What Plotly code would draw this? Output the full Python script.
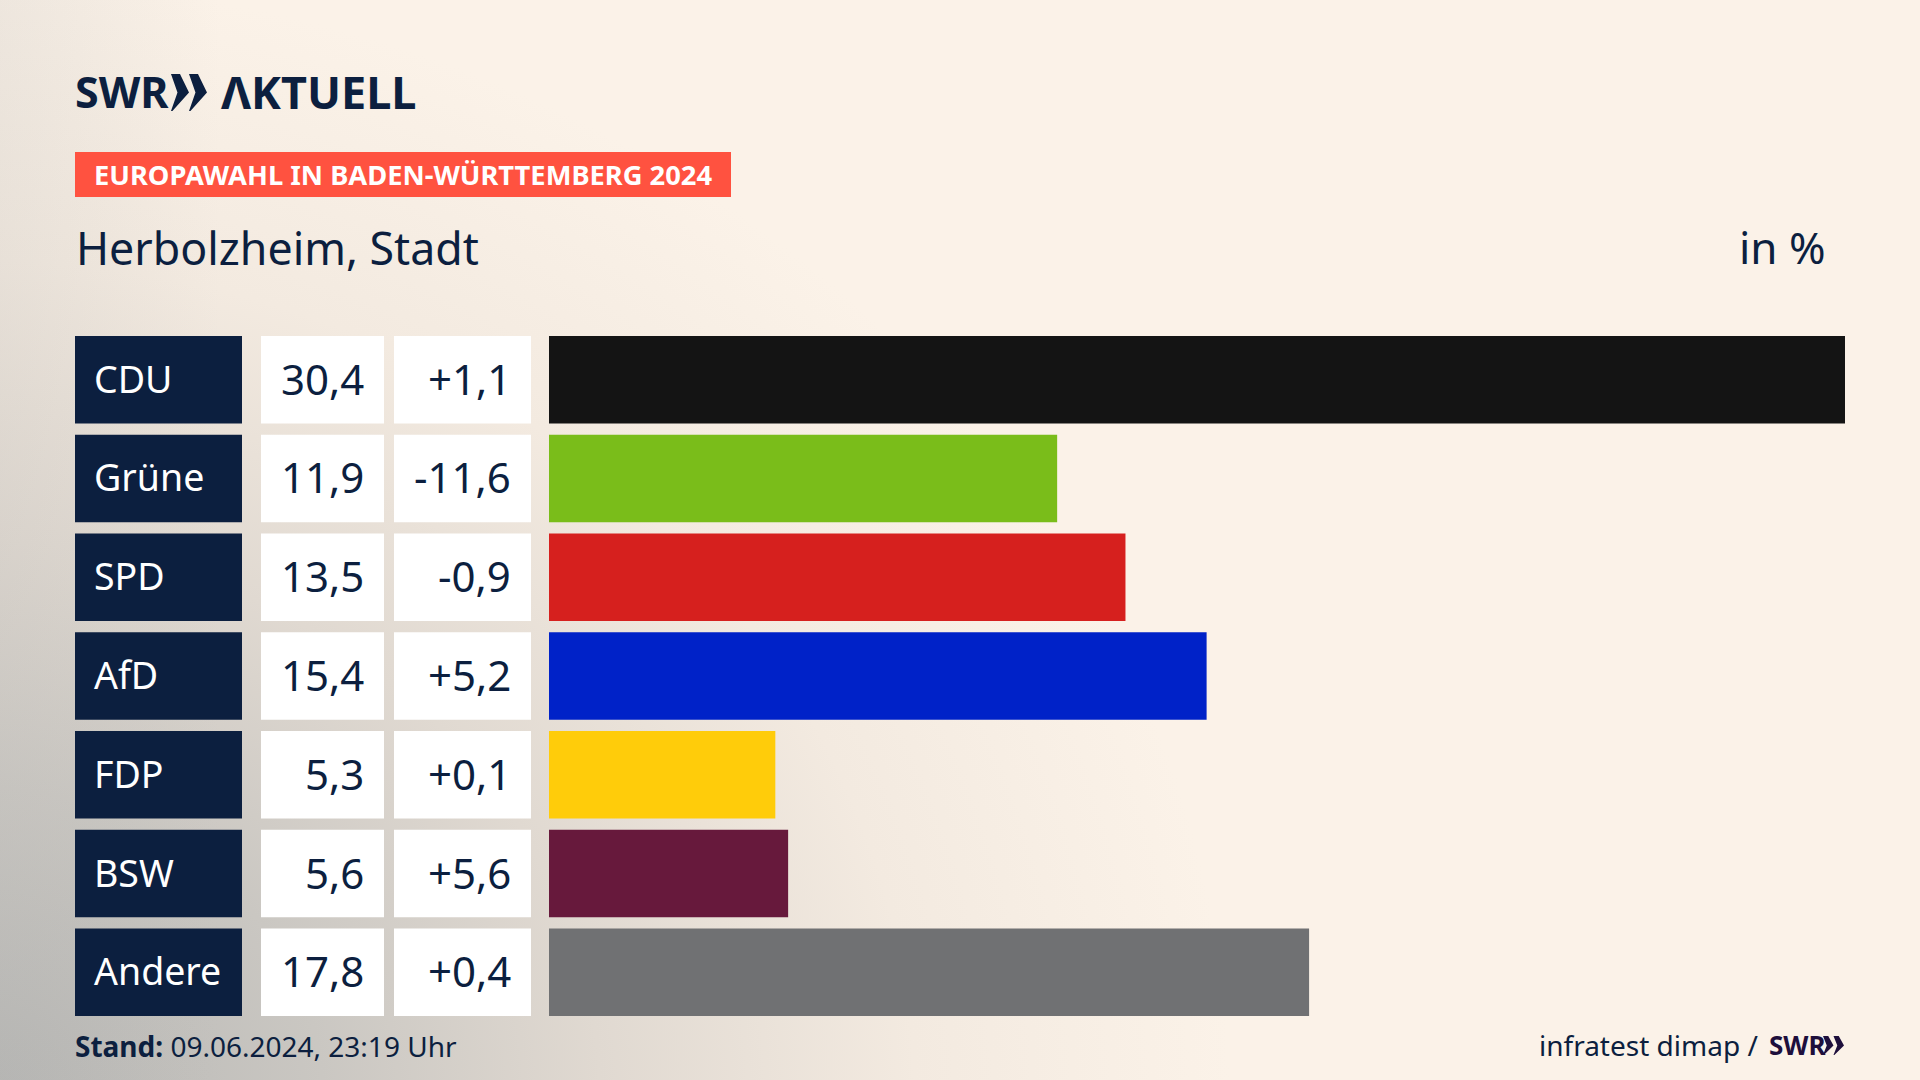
import base64
import plotly.graph_objects as go

# Chart data
parties = ["CDU", "Grüne", "SPD", "AfD", "FDP", "BSW", "Andere"]
shares = [30.4, 11.9, 13.5, 15.4, 5.3, 5.6, 17.8]
changes = ["+1,1", "-11,6", "-0,9", "+5,2", "+0,1", "+5,6", "+0,4"]
colors = ["#141414", "#7ABD1A", "#D6201E", "#0022C8", "#FFCC0A", "#67193C", "#707173"]

W, H = 1920, 1080
NAVY = "#0C1F3F"
FONT = "Noto Sans"


def px(x):
    return x / W


def py(y):
    return 1 - y / H


def chevrons(x0, x1, y0, y1, color):
    """Two arrow heads of the SWR logo, in paper coordinates"""
    out = []
    w = (x1 - x0) / 2
    ym = (y0 + y1) / 2
    for i in range(2):
        a = x0 + i * w
        p = [(a, y0), (a + w * 0.5, y0), (a + w, ym), (a + w * 0.08, y1), (a, y1), (a + w * 0.36, ym)]
        path = "M " + " L ".join(f"{px(u):.5f},{py(v):.5f}" for u, v in p) + " Z"
        out.append(dict(type="path", path=path, xref="paper", yref="paper",
                        fillcolor=color, line_width=0, layer="above"))
    return out


def label(text, x, y, size, color=NAVY, anchor="left", bold=False, yref="paper", yshift=0):
    return dict(text=f"<b>{text}</b>" if bold else text, x=px(x), y=y, xref="paper", yref=yref,
                xanchor=anchor, yanchor="middle", showarrow=False, yshift=yshift,
                font=dict(family=FONT, size=size, color=color))


# Soft grey glow from the lower left corner, plus a faint shade along the left edge
background = f"""<svg xmlns="http://www.w3.org/2000/svg" width="{W}" height="{H}">
<defs>
<radialGradient id="g" gradientUnits="userSpaceOnUse" cx="0" cy="0" r="1"
 gradientTransform="translate(-30 1100) scale(1260 1120)">
<stop offset="0" stop-color="#B4B4B2"/>
<stop offset="0.28" stop-color="#CAC7C2"/>
<stop offset="0.5" stop-color="#E0D9D1"/>
<stop offset="0.75" stop-color="#F3EAE0"/>
<stop offset="1" stop-color="#FBF2E8"/>
</radialGradient>
<linearGradient id="e" x1="0" y1="0" x2="1" y2="0">
<stop offset="0" stop-color="#B4B4B2" stop-opacity="0.18"/>
<stop offset="1" stop-color="#B4B4B2" stop-opacity="0"/>
</linearGradient>
</defs>
<rect width="{W}" height="{H}" fill="#FBF2E8"/>
<rect width="{W}" height="{H}" fill="url(#g)"/>
<rect width="220" height="{H}" fill="url(#e)"/>
</svg>"""
bg_uri = "data:image/svg+xml;base64," + base64.b64encode(background.encode()).decode()

fig = go.Figure()
fig.add_trace(go.Bar(
    x=shares, y=list(range(len(parties))), orientation="h",
    marker=dict(color=colors, line_width=0), width=0.885, hoverinfo="skip",
))

shapes = []
annotations = []
for i, party in enumerate(parties):
    for x0, x1, fill in [(75, 242, NAVY), (261, 384, "white"), (394, 531, "white")]:
        shapes.append(dict(type="rect", xref="paper", yref="y", x0=px(x0), x1=px(x1),
                           y0=i - 0.4425, y1=i + 0.4425, fillcolor=fill, line_width=0))
    annotations.append(label(party, 91.5, i, 37.5, color="white", yref="y", yshift=1.5))
    annotations.append(label(f"{shares[i]:.1f}".replace(".", ","), 366, i, 42, anchor="right", yref="y", yshift=1.5))
    annotations.append(label(changes[i], 513, i, 42, anchor="right", yref="y", yshift=1.5))

# Header and footer
shapes.append(dict(type="rect", xref="paper", yref="paper", x0=px(75), x1=px(731),
                   y0=py(197), y1=py(152), fillcolor="#FF5240", line_width=0))
shapes += chevrons(171, 207, 74, 111, NAVY)
shapes += chevrons(1823, 1844, 1036, 1055, "#1E0F3C")
annotations += [
    label("SWR", 73, py(92), 43, bold=True),
    label("ΛKTUELL", 219, py(92), 45, bold=True),
    label("EUROPAWAHL IN BADEN-WÜRTTEMBERG 2024", 91.5, py(175), 27.3, color="white", bold=True),
    label("Herbolzheim, Stadt", 74, py(247), 44.7),
    label("in %", 1827.5, py(247), 44, anchor="right"),
    label("<b>Stand:</b> 09.06.2024, 23:19 Uhr", 73, py(1046), 28),
    label("infratest dimap /", 1760, py(1045), 28, anchor="right"),
    label("SWR", 1767, py(1045), 26, color="#1E0F3C", bold=True),
]

fig.update_layout(
    width=W, height=H, margin=dict(l=0, r=0, t=0, b=0),
    paper_bgcolor="#FBF2E8", plot_bgcolor="rgba(0,0,0,0)", showlegend=False,
    # range stops just short of the longest bar, the source scale runs a bit wide
    xaxis=dict(domain=[px(549), px(1845)], range=[0, 30.35], visible=False),
    yaxis=dict(domain=[py(1016), py(336)], range=[len(parties) - 0.5575, -0.4425], visible=False),
    shapes=shapes, annotations=annotations,
    images=[dict(source=bg_uri, xref="paper", yref="paper", x=0, y=1, sizex=1, sizey=1,
                 sizing="stretch", xanchor="left", yanchor="top", layer="below")],
)

fig.write_html("out.html", config={"displayModeBar": False},
               post_script="document.body.style.margin='0';")
